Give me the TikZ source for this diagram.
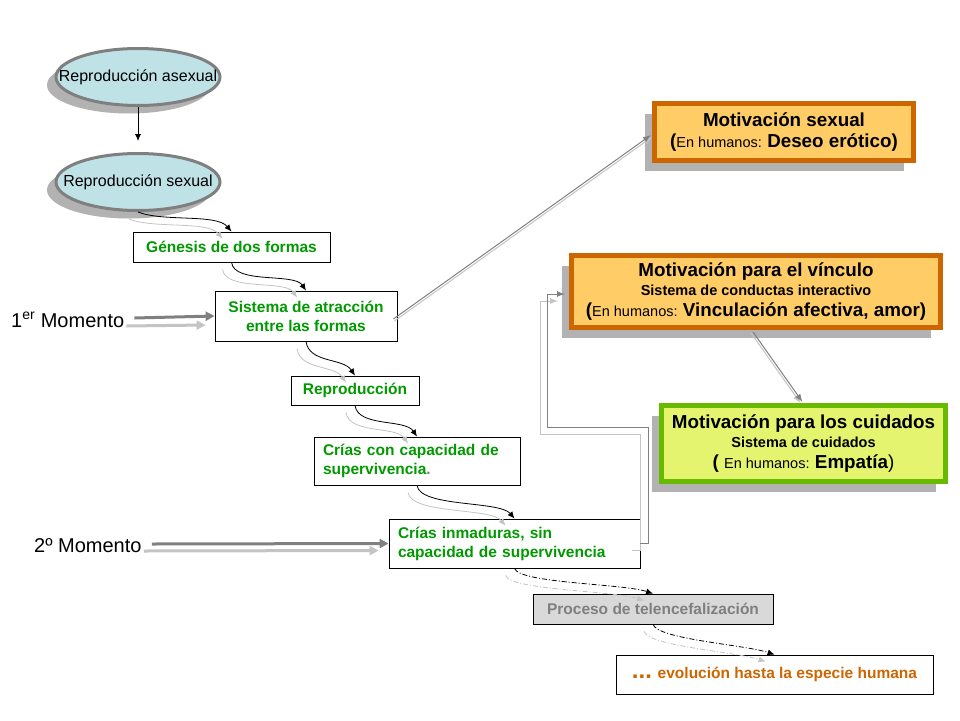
\documentclass[tikz,border=0pt]{standalone}
\usepackage{fontspec}
\setmainfont{Liberation Sans}
\usetikzlibrary{arrows.meta,shapes.geometric,shadows}
\definecolor{gtext}{HTML}{009A00}
\definecolor{ellfill}{HTML}{BFE2E6}
\definecolor{ellline}{HTML}{7F7F7F}
\definecolor{shad}{HTML}{B2B2B2}
\definecolor{orline}{HTML}{CC6600}
\definecolor{orfill}{HTML}{FFCC66}
\definecolor{grline}{HTML}{66BB00}
\definecolor{grfill}{HTML}{E5F46E}
\definecolor{evotext}{HTML}{CC6600}
\definecolor{darkg}{HTML}{808080}
\definecolor{lightg}{HTML}{C4C4C4}
\definecolor{procfill}{HTML}{D9D9D9}
\definecolor{proctext}{HTML}{7F7F7F}
\newcommand\fs[2]{\fontsize{#1}{#2}\selectfont}
% #1 from node, #2 to node, #3 #4 control offsets, #5 extra style
\newcommand\pairconn[5]{%
  \draw[gry,#5] ([shift={(-9,7)}]#1.south) .. controls +#3 and +#4 .. ([shift={(-9,7)}]#2.north);
  \draw[blk,#5] (#1.south) .. controls +#3 and +#4 .. (#2.north);}
\begin{document}
\begin{tikzpicture}[x=1pt,y=-1pt,
  ell/.style={ellipse,draw=ellline,line width=3pt,fill=ellfill,minimum width=164pt,minimum height=57pt,inner sep=0pt,font=\fs{16}{19},
    drop shadow={shadow xshift=-9pt,shadow yshift=-8pt,fill=shad,opacity=1}},
  gbox/.style={draw=black,line width=0.8pt,fill=white,text=gtext,font=\fs{15.5}{19}\bfseries,inner sep=0pt,align=center},
  lbox/.style={gbox,align=left,inner xsep=9pt},
  mbox/.style={line width=5pt,inner sep=0pt,align=center,font=\fs{18.8}{21.5}\bfseries,
    drop shadow={shadow xshift=-10pt,shadow yshift=-10pt,fill=shad,opacity=1}},
  blk/.style={draw=black,line width=0.8pt,-{Latex[length=7pt,width=6pt]}},
  gry/.style={draw=lightg,line width=0.8pt,-{Latex[length=7pt,width=6pt]}},
  dd/.style={dash pattern=on 5pt off 2pt on 1pt off 2pt},
  momd/.style={draw=darkg,line width=3pt,-{Triangle[length=9pt,width=9pt]}},
  moml/.style={draw=lightg,line width=3pt,-{Triangle[length=9pt,width=9pt]}},
  slimd/.style={draw=darkg,line width=1pt,-{Latex[length=8pt,width=6pt]}},
  sliml/.style={draw=lightg,line width=1pt,-{Latex[length=8pt,width=6pt]}},
  momtext/.style={font=\fs{20}{24},anchor=west,inner sep=0pt}]
\useasboundingbox (0,0) rectangle (960,720);
\fill[white] (0,0) rectangle (960,720);

% left column
\node[ell] (ell1) at (138,77) {\makebox[0pt]{Reproducción asexual}};
\node[ell] (ell2) at (138,182) {\makebox[0pt]{Reproducción sexual}};
\node[gbox,minimum width=197pt,minimum height=30pt] (gen) at (231.5,247) {Génesis de dos formas};
\node[gbox,minimum width=182pt,minimum height=50pt] (sis) at (306,316) {Sistema de atracción\\entre las formas};
\node[gbox,minimum width=128pt,minimum height=29pt] (rep) at (355,390.5) {Reproducción};
\node[lbox,text width=188pt,minimum height=48pt] (cr1) at (417,461) {Crías con capacidad de\\supervivencia{\color{proctext}.}};
\node[lbox,text width=233pt,minimum height=49pt] (cr2) at (514.5,543.5) {Crías inmaduras, sin\\capacidad de supervivencia};
\node[gbox,fill=procfill,text=proctext,minimum width=240pt,minimum height=30pt] (proc) at (653,609) {Proceso de telencefalización};
\node[gbox,text=evotext,minimum width=317pt,minimum height=39pt] (evo) at (774.5,674.5) {{\fs{24}{24}...} evolución hasta la especie humana};

\node[momtext] (m1) at (11,320) {1\textsuperscript{er} Momento};
\node[momtext] (m2) at (34,546) {2º Momento};

% right boxes
\node[mbox,draw=orline,fill=orfill,minimum width=259pt,minimum height=57pt] (ms) at (784,132)
  {Motivación sexual\\({\mdseries\fs{14.5}{21.5}En humanos: }Deseo erótico)};
\node[mbox,draw=orline,fill=orfill,minimum width=369pt,minimum height=72pt] (mv) at (756,291.5)
  {Motivación para el vínculo\\[-2pt]{\fs{14.5}{17}Sistema de conductas interactivo}\\[-1pt]({\mdseries\fs{14.5}{21.5}En humanos: }Vinculación afectiva, amor)};
\node[mbox,draw=grline,fill=grfill,minimum width=284pt,minimum height=76pt] (mc) at (803.5,443.5)
  {Motivación para los cuidados\\[-2pt]{\fs{14.5}{17}Sistema de cuidados}\\[-1pt]( {\mdseries\fs{14.5}{21.5}En humanos: }Empatía{\mdseries)}};

% connectors
\draw[line width=0.8pt,-{Latex[length=7pt,width=6pt]}] (ell1.south) -- ([shift={(0,-11)}]ell2.north);
\pairconn{ell2}{gen}{(25,10)}{(-15,-18)}{}
\pairconn{gen}{sis}{(3,22)}{(-12,-18)}{}
\pairconn{sis}{rep}{(3,22)}{(-12,-18)}{}
\pairconn{rep}{cr1}{(3,22)}{(-12,-18)}{}
\pairconn{cr1}{cr2}{(3,22)}{(-15,-18)}{}
\pairconn{cr2}{proc}{(5,15)}{(-30,-10)}{dd}
\pairconn{proc}{evo}{(5,15)}{(-30,-10)}{dd}

\draw[moml] ([shift={(2,6)}]m1.east) -- ([shift={(-9,9)}]sis.west);
\draw[momd] ([shift={(10,-2)}]m1.east) -- (sis.west);
\draw[moml] ([shift={(2,5)}]m2.east) -- ([shift={(-10,7)}]cr2.west);
\draw[momd] ([shift={(10,-2)}]m2.east) -- (cr2.west);

\draw[sliml] ([shift={(-3,5)}]sis.east) -- ([shift={(0,5)}]ms.west);
\draw[slimd] ([shift={(-4,3)}]sis.east) -- ([shift={(-1,3)}]ms.west);
\draw[sliml] ([shift={(-5,3)}]mv.south) -- ([shift={(-3,0)}]mc.north);
\draw[slimd] ([shift={(-3,2)}]mv.south) -- ([shift={(-1,-1)}]mc.north);

\coordinate (v1) at (648,427);
\coordinate (v2) at (547,294);
\coordinate (w1) at (640,434);
\coordinate (w2) at (540,301);
\draw[sliml] ([shift={(-8,7)}]cr2.east) -| (w1) -| (w2) -- ([shift={(-11,9.5)}]mv.west);
\draw[slimd] (cr2.east) -| (v1) -| (v2) -- ([shift={(-4,2.5)}]mv.west);
\end{tikzpicture}
\end{document}
